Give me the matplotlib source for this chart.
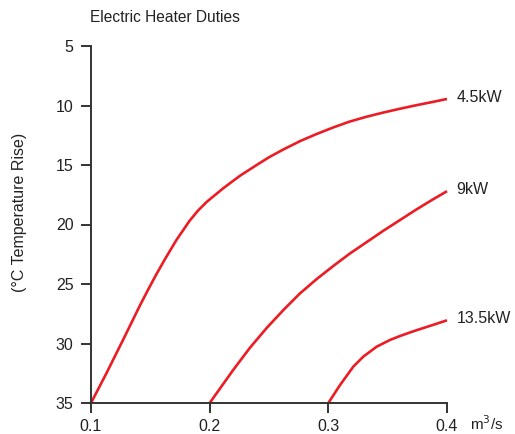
import matplotlib
matplotlib.use("Agg")
import matplotlib.pyplot as plt

plt.rcParams["font.family"] = ["Liberation Sans", "DejaVu Sans"]

# values
x_45 = [0.100, 0.113, 0.127, 0.141, 0.148, 0.155, 0.1624, 0.172, 0.183, 0.190,
        0.1975, 0.2115, 0.2256, 0.2396, 0.250, 0.262, 0.276, 0.290, 0.304,
        0.318, 0.332, 0.346, 0.360, 0.374, 0.388, 0.400]
y_45 = [35.0, 32.5, 29.7, 26.85, 25.5, 24.2, 22.9, 21.3, 19.7, 18.85,
        18.1, 16.95, 15.9, 15.0, 14.35, 13.7, 13.0, 12.4, 11.85,
        11.35, 10.95, 10.6, 10.28, 9.98, 9.7, 9.45]

x_9 = [0.200, 0.220, 0.234, 0.248, 0.262, 0.276, 0.290, 0.304, 0.318, 0.332,
       0.346, 0.360, 0.374, 0.388, 0.400]
y_9 = [35.0, 32.2, 30.35, 28.7, 27.2, 25.8, 24.6, 23.5, 22.45, 21.5,
       20.55, 19.65, 18.75, 17.9, 17.2]

x_135 = [0.300, 0.3098, 0.321, 0.3295, 0.3407, 0.352, 0.3604, 0.370, 0.380,
         0.390, 0.400]
y_135 = [35.0, 33.5, 31.95, 31.1, 30.27, 29.7, 29.37, 29.03, 28.7,
         28.38, 28.05]

series = [("4.5kW", x_45, y_45), ("9kW", x_9, y_9), ("13.5kW", x_135, y_135)]
xticks = [0.1, 0.2, 0.3, 0.4]
yticks = [5, 10, 15, 20, 25, 30, 35]

fig = plt.figure(figsize=(5.15, 4.34), dpi=100)
ax = fig.add_axes([91 / 515, 1 - 403 / 434, 356 / 515, 357 / 434])

red = "#ec1c24"
axis_col = "#333333"
for label, xs, ys in series:
    ax.plot(xs, ys, color=red, lw=1.9, solid_capstyle="butt",
            solid_joinstyle="round", clip_on=False)
    ax.annotate(label, (xs[-1], ys[-1]), xytext=(7, 1), textcoords="offset points",
                ha="left", va="center", fontsize=11.5, color="#222222")

ax.set_xlim(0.1, 0.4)
ax.set_ylim(35, 5)
ax.set_xticks(xticks)
ax.set_xticklabels([f"{v:.1f}" for v in xticks])
ax.set_yticks(yticks)

for s in ["top", "right"]:
    ax.spines[s].set_visible(False)
for s in ["left", "bottom"]:
    ax.spines[s].set_color(axis_col)
    ax.spines[s].set_linewidth(1.4)
ax.tick_params(colors=axis_col, labelcolor="#222222", width=1.4, length=7.5,
               labelsize=11.5)
ax.tick_params(axis="y", pad=5)
ax.tick_params(axis="x", pad=4)

ax.text(1.065, -0.058, "m$^3$/s", transform=ax.transAxes, ha="left", va="center",
        fontsize=11, color="#222222")
fig.text(90 / 515, 1 - 18 / 434, "Electric Heater Duties", ha="left", va="center",
         fontsize=11.2, color="#222222")
fig.text(20 / 515, 1 - 212 / 434, "(°C Temperature Rise)", rotation=90,
         ha="center", va="center", fontsize=11.5, color="#222222")

fig.savefig("out.png", dpi=100)
